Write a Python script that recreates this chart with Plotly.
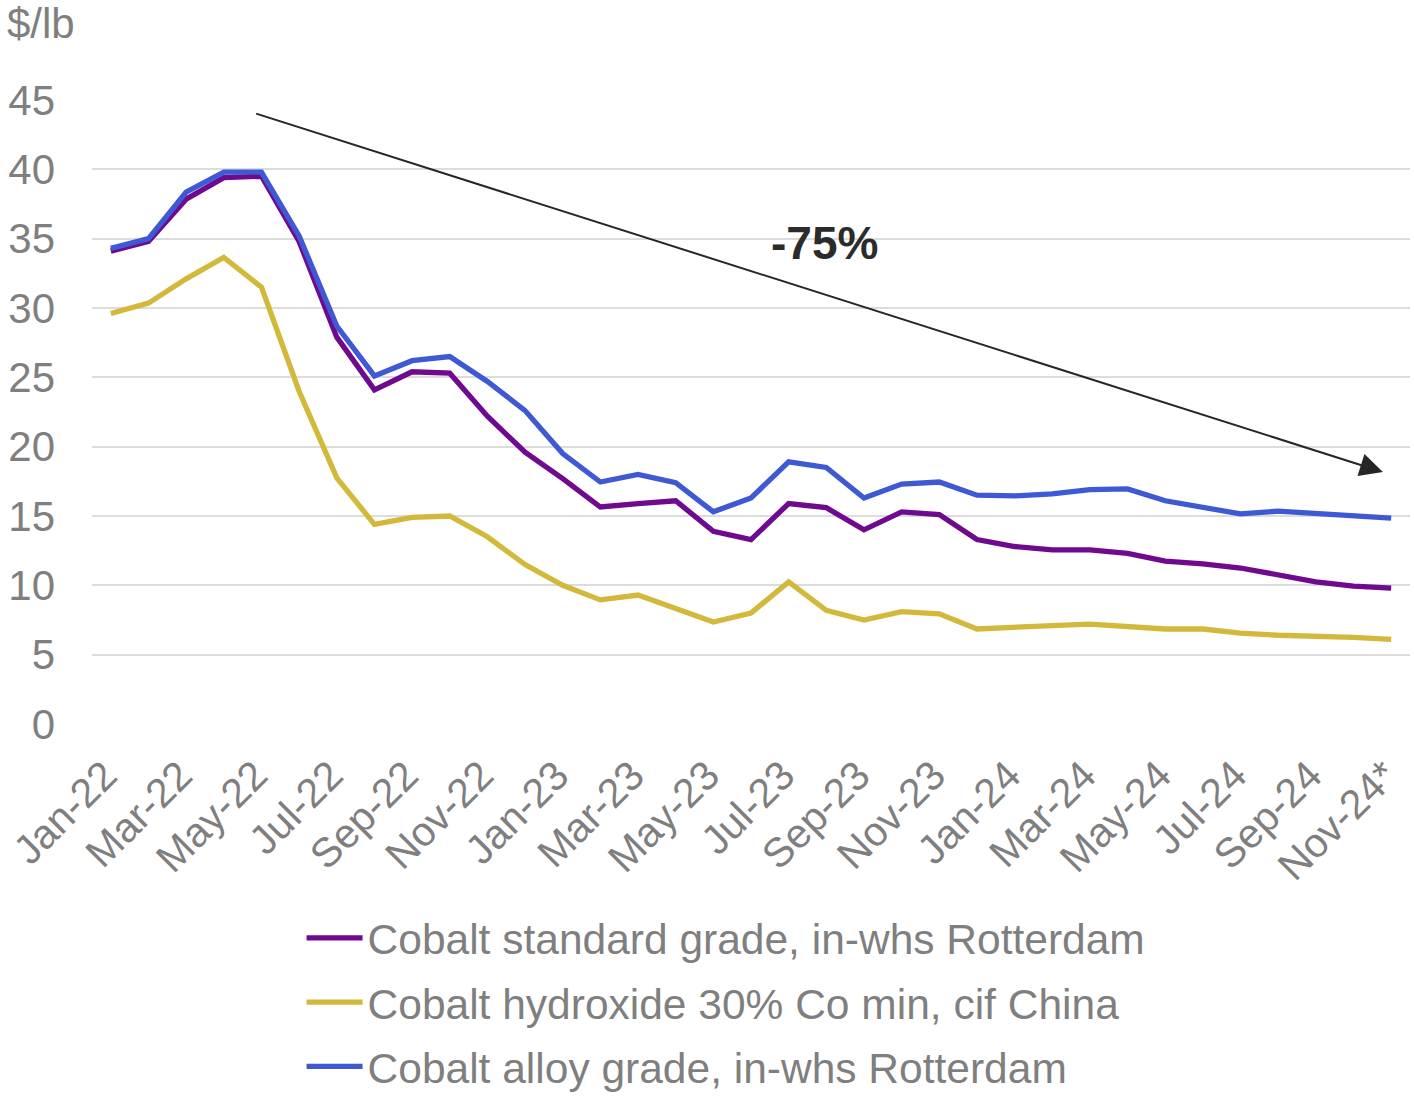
import plotly.graph_objects as go

# Monthly cobalt prices, $/lb
months = [
    "Jan-22", "Feb-22", "Mar-22", "Apr-22", "May-22", "Jun-22", "Jul-22", "Aug-22",
    "Sep-22", "Oct-22", "Nov-22", "Dec-22", "Jan-23", "Feb-23", "Mar-23", "Apr-23",
    "May-23", "Jun-23", "Jul-23", "Aug-23", "Sep-23", "Oct-23", "Nov-23", "Dec-23",
    "Jan-24", "Feb-24", "Mar-24", "Apr-24", "May-24", "Jun-24", "Jul-24", "Aug-24",
    "Sep-24", "Oct-24", "Nov-24*",
]

standard_grade = [
    34.1, 34.8, 37.85, 39.4, 39.5, 34.8, 27.9, 24.1,
    25.4, 25.3, 22.2, 19.6, 17.7, 15.65, 15.9, 16.1,
    13.9, 13.3, 15.9, 15.6, 14.0, 15.3, 15.1, 13.3,
    12.8, 12.55, 12.55, 12.3, 11.75, 11.55, 11.25, 10.75,
    10.25, 9.95, 9.8,
]

hydroxide = [
    29.6, 30.35, 32.1, 33.65, 31.5, 24.0, 17.75, 14.4,
    14.9, 15.0, 13.5, 11.5, 10.0, 8.95, 9.3, 8.3,
    7.35, 8.0, 10.25, 8.2, 7.5, 8.1, 7.95, 6.85,
    7.0, 7.1, 7.2, 7.0, 6.85, 6.85, 6.55, 6.4,
    6.35, 6.25, 6.1,
]

alloy_grade = [
    34.3, 35.0, 38.35, 39.8, 39.8, 35.2, 28.7, 25.1,
    26.2, 26.5, 24.7, 22.6, 19.5, 17.45, 18.0, 17.4,
    15.3, 16.3, 18.9, 18.5, 16.3, 17.3, 17.45, 16.5,
    16.45, 16.6, 16.9, 16.95, 16.1, 15.6, 15.15, 15.35,
    15.2, 15.0, 14.85,
]

series_names = [
    "Cobalt standard grade, in-whs Rotterdam",
    "Cobalt hydroxide 30% Co min, cif China",
    "Cobalt alloy grade, in-whs Rotterdam",
]
series_colors = ["#6f0a8f", "#d2b93c", "#3f58d3"]
y_ticks = [0, 5, 10, 15, 20, 25, 30, 35, 40, 45]
change_label = "-75%"

FONT = "Liberation Sans, Arial, sans-serif"
GREY = "#7f7f7f"

fig = go.Figure()
for i, (name, vals, col) in enumerate(zip(series_names, [standard_grade, hydroxide, alloy_grade], series_colors)):
    fig.add_trace(go.Scatter(
        x=months, y=vals, name=name, mode="lines",
        line=dict(color=col, width=5.3),
        legendgroup=f"g{i}",
    ))

fig.update_layout(
    width=1414, height=1096, autosize=False,
    margin=dict(l=92, r=4, t=100, b=372),
    paper_bgcolor="white", plot_bgcolor="white",
    font=dict(family=FONT, color=GREY, size=40),
    showlegend=True,
    legend=dict(
        x=0.159, y=0.1755, xref="paper", yref="container",
        xanchor="left", yanchor="top",
        orientation="v", traceorder="grouped", tracegroupgap=6,
        font=dict(size=42.5, color=GREY, family=FONT),
        itemwidth=56, bgcolor="rgba(0,0,0,0)",
    ),
    xaxis=dict(
        type="category", categoryorder="array", categoryarray=months,
        range=[-0.5, len(months) - 0.5],
        tickmode="array", tickvals=months[::2], ticktext=months[::2],
        tickangle=-45, showgrid=False, showline=False, zeroline=False,
        ticks="", ticklabelstandoff=18, ticklabelshift=-6,
        tickfont=dict(size=41, color=GREY, family=FONT),
        automargin=False,
    ),
    yaxis=dict(
        range=[0, 45], tickmode="array", tickvals=y_ticks,
        showgrid=True, gridcolor="#dcdcdc", gridwidth=2,
        zeroline=False, showline=False, ticks="",
        ticklabelstandoff=36, automargin=False,
        tickfont=dict(size=42, color=GREY, family=FONT),
    ),
)

# Unit label above the value axis, pinned to the top edge of the figure
fig.add_annotation(
    text="$/lb", xref="paper", yref="paper", x=0, y=724 / 624,
    xshift=-87, xanchor="left", yanchor="top", yshift=2, showarrow=False,
    font=dict(size=42, color=GREY, family=FONT),
)

# Trend arrow from the 2022 peak down to the latest month
fig.add_annotation(
    x=33.78, y=18.17, ax=3.82, ay=44.05,
    xref="x", yref="y", axref="x", ayref="y",
    text="", showarrow=True, arrowhead=2, arrowsize=2.3,
    arrowwidth=2, arrowcolor="#262626",
)
fig.add_annotation(
    x=18.95, y=34.7, xref="x", yref="y", text=f"<b>{change_label}</b>",
    showarrow=False, font=dict(size=46, color="#2b2b2b", family=FONT),
)

fig.write_html("out.html")
